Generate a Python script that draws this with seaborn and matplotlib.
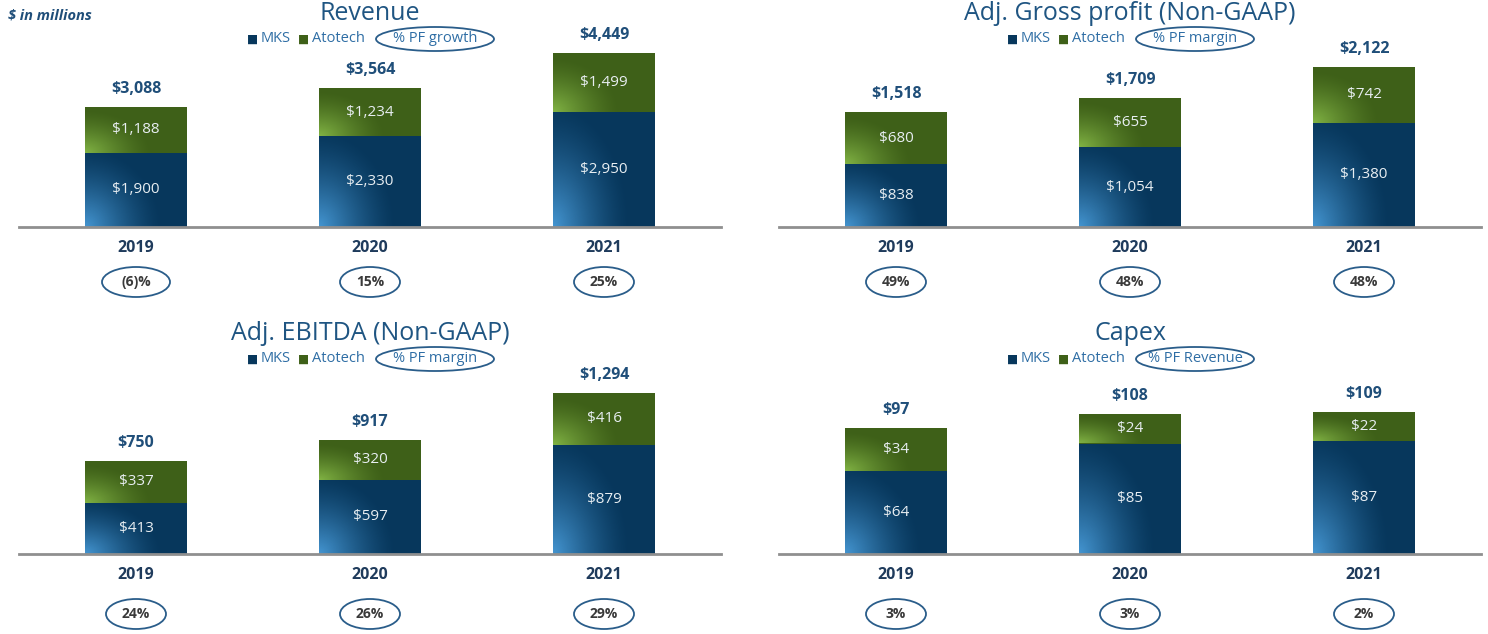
import numpy as np
import matplotlib
matplotlib.use('Agg')
import matplotlib.pyplot as plt
import matplotlib.transforms as mtransforms
from matplotlib.patches import Ellipse
from matplotlib.colors import to_rgb
import seaborn as sns

# Data ($ in millions)
years = ['2019', '2020', '2021']

revenue_mks = [1900, 2330, 2950]
revenue_ato = [1188, 1234, 1499]
revenue_total = [3088, 3564, 4449]
revenue_pct = ['(6)%', '15%', '25%']

gross_mks = [838, 1054, 1380]
gross_ato = [680, 655, 742]
gross_total = [1518, 1709, 2122]
gross_pct = ['49%', '48%', '48%']

ebitda_mks = [413, 597, 879]
ebitda_ato = [337, 320, 416]
ebitda_total = [750, 917, 1294]
ebitda_pct = ['24%', '26%', '29%']

capex_mks = [64, 85, 87]
capex_ato = [34, 24, 22]
capex_total = [97, 108, 109]
capex_pct = ['3%', '3%', '2%']

# Colors
MKS_C = '#07375C'
ATO_C = '#3E6018'
MKS_LIGHT = '#4FA6E6'
ATO_LIGHT = '#8DC24C'
TITLE_C = '#1F5582'
TOTAL_C = '#1F4E79'
YEAR_C = '#1F3B5C'
LEG_C = '#2F6EA5'
ELL_C = '#2A5D8A'
BASE_C = '#8F8F8F'

sns.set_theme(style='white')
plt.rcParams['font.family'] = ['Open Sans', 'DejaVu Sans']

fig = plt.figure(figsize=(14.88, 6.34), dpi=100)


def ellipse(ax, x, y, coords, dx, dy, w, h):
    base = ax.transData if coords == 'data' else ax.transAxes
    tr = mtransforms.ScaledTranslation(x, y, base) + mtransforms.Affine2D().translate(dx, dy)
    e = Ellipse((0, 0), w, h, transform=tr, facecolor='white', edgecolor=ELL_C,
                lw=1.3, clip_on=False, zorder=5)
    ax.add_artist(e)


def shade(ax, x0, x1, y0, y1, light, reach):
    # soft highlight from the lower-left corner of a bar segment
    u, v = np.meshgrid(np.linspace(0, 1, 100), np.linspace(0, 1, 100))
    d = np.sqrt(u ** 2 + (v * 0.7) ** 2)
    a = np.clip(1 - d / reach, 0, 1) ** 1.4 * 0.85
    img = np.zeros((100, 100, 4))
    img[..., :3] = to_rgb(light)
    img[..., 3] = a
    ax.imshow(img, extent=(x0, x1, y0, y1), origin='lower', aspect='auto',
              interpolation='bilinear', zorder=2.5)


def panel(rect, title, mks, ato, total, pct, pct_label, ymax, title_dy, pct_dy):
    ax = fig.add_axes(rect)
    sns.barplot(x=years, y=total, color=ATO_C, saturation=1, width=0.44,
                linewidth=0, ax=ax)
    sns.barplot(x=years, y=mks, color=MKS_C, saturation=1, width=0.44,
                linewidth=0, ax=ax)
    bars = ax.patches
    n = len(years)
    for i in range(n):
        g, b = bars[i], bars[n + i]
        x0, x1 = b.get_x(), b.get_x() + b.get_width()
        shade(ax, x0, x1, 0, b.get_height(), MKS_LIGHT, 0.75)
        shade(ax, x0, x1, b.get_height(), g.get_height(), ATO_LIGHT, 0.65)
    ax.set_xlim(-0.5, 2.5)
    ax.set_ylim(0, ymax)
    for s in ['top', 'right', 'left']:
        ax.spines[s].set_visible(False)
    ax.spines['bottom'].set_color(BASE_C)
    ax.spines['bottom'].set_linewidth(2)
    ax.spines['bottom'].set_zorder(4)
    ax.set_xticks([])
    ax.set_yticks([])
    ax.set_xlabel('')
    ax.set_ylabel('')

    for i in range(n):
        # segment labels
        ax.text(i, mks[i] / 2, f'${mks[i]:,}', ha='center', va='center',
                color='#E8EEF2', fontsize=11, zorder=4)
        ax.text(i, (mks[i] + total[i]) / 2, f'${ato[i]:,}', ha='center', va='center',
                color='#E8EEF2', fontsize=11, zorder=4)
        ax.annotate(f'${total[i]:,}', xy=(i, total[i]), xytext=(0, 18),
                    textcoords='offset pixels', ha='center', va='center',
                    color=TOTAL_C, fontsize=11.5, fontweight='bold')
        ax.annotate(years[i], xy=(i, 0), xytext=(0, -21), textcoords='offset pixels',
                    ha='center', va='center', color=YEAR_C, fontsize=11.5,
                    fontweight='bold', annotation_clip=False)
        ax.annotate(pct[i], xy=(i, 0), xytext=(0, pct_dy), textcoords='offset pixels',
                    ha='center', va='center', color='#3A3A3A', fontsize=10,
                    fontweight='bold', annotation_clip=False, zorder=6)
        w = 68 if len(pct[i]) > 3 else 60
        ellipse(ax, i, 0, 'data', 0, pct_dy, w, 30)

    # title
    ax.annotate(title, xy=(0.5, 0), xycoords='axes fraction', xytext=(0, title_dy),
                textcoords='offset pixels', ha='center', va='center',
                color=TITLE_C, fontsize=18, annotation_clip=False)
    # legend
    ly = title_dy - 25
    for dx, txt, c in [(-117, 'MKS', MKS_C), (-66, 'Atotech', ATO_C)]:
        ax.annotate('■', xy=(0.5, 0), xycoords='axes fraction', xytext=(dx, ly),
                    textcoords='offset pixels', ha='center', va='center',
                    color=c, fontsize=8.5, family=['DejaVu Sans'], annotation_clip=False)
        ax.annotate(txt, xy=(0.5, 0), xycoords='axes fraction', xytext=(dx + 8, ly),
                    textcoords='offset pixels', ha='left', va='center',
                    color=LEG_C, fontsize=10.5, annotation_clip=False)
    ax.annotate(pct_label, xy=(0.5, 0), xycoords='axes fraction', xytext=(65, ly),
                textcoords='offset pixels', ha='center', va='center',
                color=LEG_C, fontsize=10.5, zorder=6, annotation_clip=False)
    ellipse(ax, 0.5, 0, 'axes', 65, ly, 118, 24)
    return ax


W, H = 1488.0, 634.0
ah = 200 / H
aw = 702 / W
panel([19 / W, 1 - 227 / H, aw, ah], 'Revenue', revenue_mks, revenue_ato, revenue_total,
      revenue_pct, '% PF growth', 200 / 0.039, 213, -55)
panel([779 / W, 1 - 227 / H, aw, ah], 'Adj. Gross profit (Non-GAAP)', gross_mks, gross_ato,
      gross_total, gross_pct, '% PF margin', 200 / 0.0755, 213, -55)
panel([19 / W, 1 - 554 / H, aw, ah], 'Adj. EBITDA (Non-GAAP)', ebitda_mks, ebitda_ato,
      ebitda_total, ebitda_pct, '% PF margin', 200 / 0.1243, 220, -60)
panel([779 / W, 1 - 554 / H, aw, ah], 'Capex', capex_mks, capex_ato, capex_total,
      capex_pct, '% PF Revenue', 200 / 1.30, 220, -60)

fig.text(8 / W, 1 - 16 / H, '$ in millions', ha='left', va='center', color=TOTAL_C,
         fontsize=10.5, fontweight='bold', fontstyle='italic')

fig.savefig('out.png', dpi=100)
